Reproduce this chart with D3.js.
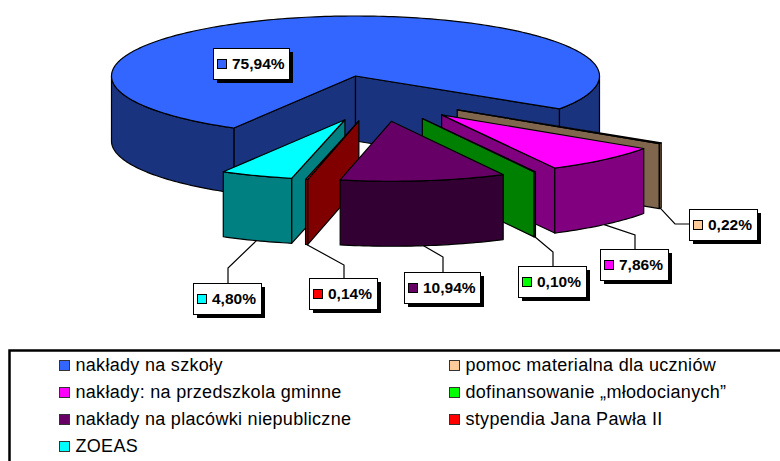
<!DOCTYPE html>
<html>
<head>
<meta charset="utf-8">
<script src="https://cdn.jsdelivr.net/npm/d3@7"></script>
<style>
  html, body { margin: 0; padding: 0; background: #fff; overflow: hidden; }
  text { font-family: "Liberation Sans", Arial, sans-serif; fill: #000; }
</style>
</head>
<body>
<div id="chart"></div>
<script>
// Slices in pie order (clockwise)
const categories = [
    "nakłady na szkoły",
    "pomoc materialna dla uczniów",
    "nakłady: na przedszkola gminne",
    "dofinansowanie „młodocianych”",
    "nakłady na placówki niepubliczne",
    "stypendia Jana Pawła II",
    "ZOEAS"
];
const values = [75.94, 0.22, 7.86, 0.10, 10.94, 0.14, 4.80];
const topColors = ["#3366ff", "#ffcc99", "#ff00ff", "#00ff00", "#660066", "#ff0000", "#00ffff"];
const sideColors = ["#1a337f", "#7f664c", "#800080", "#008000", "#330033", "#800000", "#008080"];

// Legend reads down the columns, not in pie order
const legendOrder = [0, 1, 2, 3, 4, 5, 6];

// Label boxes, hand placed like in the original [x, y, elbowX, elbowY]
const labelBoxes = [
    [213, 48, null, null],
    [689, 209, 675, 224],
    [600, 249, 635, 235],
    [518, 266, 553, 252],
    [404, 272, 443, 257],
    [309, 278, 344, 265],
    [193, 283, 228, 268]
];

const W = 780, H = 461;
const rx = 244, ry = 60, depth = 65;
const center = [379, 95.5];
const explodeX = 94, explodeY = 26;
const mainOffset = [-23.5, -19.5]; // the big slice moves by less than the rest
const startDeg = 209.9;

const svg = d3.select("#chart").append("svg")
    .attr("width", W)
    .attr("height", H)
    .style("display", "block");

const pie = d3.pie()
    .sort(null)
    .startAngle(startDeg * Math.PI / 180)
    .endAngle((startDeg + 360) * Math.PI / 180);

// d3 angles start at 12 o'clock, the ellipse maths starts at 3 o'clock
const slices = pie(values).map(d => {
    const a0 = d.startAngle - Math.PI / 2;
    const a1 = d.endAngle - Math.PI / 2;
    const mid = (a0 + a1) / 2;
    const off = d.index === 0 ? mainOffset
        : [explodeX * Math.cos(mid), explodeY * Math.sin(mid)];
    return { ...d, a0, a1, mid, apex: [center[0] + off[0], center[1] + off[1]] };
});

const onRim = (s, a) => [s.apex[0] + rx * Math.cos(a), s.apex[1] + ry * Math.sin(a)];
const down = p => [p[0], p[1] + depth];
const line = d3.line();

function arcPoints(s, a0, a1) {
    const n = Math.max(2, Math.ceil((a1 - a0) / 0.02));
    return d3.range(n + 1).map(i => onRim(s, a0 + (a1 - a0) * i / n));
}

function addFace(g, points, fill) {
    g.append("path")
        .attr("d", line(points) + "Z")
        .attr("fill", fill)
        .attr("stroke", "#000")
        .attr("stroke-width", 1.2)
        .attr("stroke-linejoin", "round");
}

// Back to front, so nearer slices cover the walls behind them
const drawOrder = slices.slice().sort((a, b) => Math.sin(a.mid) - Math.sin(b.mid));

drawOrder.forEach(s => {
    const g = svg.append("g");
    const side = sideColors[s.index];

    // radial walls, only those turned to the viewer
    if (Math.cos(s.a0) < 0) {
        const p = onRim(s, s.a0);
        addFace(g, [s.apex, p, down(p), down(s.apex)], side);
    }
    if (Math.cos(s.a1) > 0) {
        const p = onRim(s, s.a1);
        addFace(g, [s.apex, p, down(p), down(s.apex)], side);
    }

    // outer rim, front half of the ellipse only
    [0, 2 * Math.PI].forEach(base => {
        const from = Math.max(s.a0, base);
        const to = Math.min(s.a1, base + Math.PI);
        if (to > from) {
            const rim = arcPoints(s, from, to);
            addFace(g, rim.concat(rim.map(down).reverse()), side);
        }
    });

    // top
    addFace(g, [s.apex].concat(arcPoints(s, s.a0, s.a1)), topColors[s.index]);
});

// Data labels with their leader lines and black drop shadow
const formatValue = v => v.toFixed(2).replace(".", ",") + "%";
const boxH = 31;

slices.forEach(s => {
    const [bx, by, ex, ey] = labelBoxes[s.index];
    const text = formatValue(values[s.index]);
    const boxW = s.index === 0 || s.index === 4 ? 76 : 68;

    if (ex !== null) {
        const anchor = down(onRim(s, s.mid));
        const end = s.index === 1 ? [bx, ey] : [ex, by];
        svg.append("path")
            .attr("d", line([anchor, [ex, ey], end]))
            .attr("fill", "none")
            .attr("stroke", "#000")
            .attr("stroke-width", 1.2);
    }

    svg.append("rect")
        .attr("x", bx + 4).attr("y", by + 4)
        .attr("width", boxW).attr("height", boxH)
        .attr("fill", "#000");
    svg.append("rect")
        .attr("x", bx + 0.5).attr("y", by + 0.5)
        .attr("width", boxW).attr("height", boxH)
        .attr("fill", "#fff")
        .attr("stroke", "#000")
        .attr("stroke-width", 1);
    svg.append("rect")
        .attr("x", bx + 4.5).attr("y", by + 11.5)
        .attr("width", 9).attr("height", 9)
        .attr("fill", topColors[s.index])
        .attr("stroke", "#000")
        .attr("stroke-width", 1);
    svg.append("text")
        .attr("x", bx + 19)
        .attr("y", by + 20.5)
        .style("font-size", "15.5px")
        .style("font-weight", "bold")
        .text(text);
});

// Legend box runs off the page on the right and at the bottom
svg.append("rect")
    .attr("x", 9.5).attr("y", 350.5)
    .attr("width", 900).attr("height", 200)
    .attr("fill", "none")
    .attr("stroke", "#000")
    .attr("stroke-width", 2.5);

const legendCol = d3.scaleOrdinal().domain([0, 1]).range([59, 449]);
const legendRow = d3.scalePoint().domain([0, 1, 2, 3]).range([365, 446]);

legendOrder.forEach((idx, i) => {
    const x = legendCol(i % 2);
    const y = legendRow(Math.floor(i / 2));
    svg.append("rect")
        .attr("x", x + 0.5).attr("y", y - 4.5)
        .attr("width", 10).attr("height", 10)
        .attr("fill", topColors[idx])
        .attr("stroke", "#333")
        .attr("stroke-width", 1);
    svg.append("text")
        .attr("x", x + 16.5)
        .attr("y", y + 5.5)
        .style("font-size", "18px")
        .style("letter-spacing", "0.3px")
        .text(categories[idx]);
});
</script>
</body>
</html>
